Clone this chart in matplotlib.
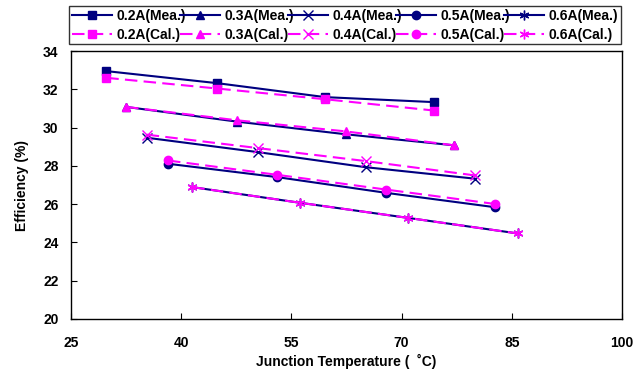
import matplotlib
matplotlib.use("Agg")
import matplotlib.pyplot as plt

plt.rcParams['font.family'] = ['Liberation Sans', 'DejaVu Sans']
plt.rcParams['font.weight'] = 'bold'

currents = ['0.2A', '0.3A', '0.4A', '0.5A', '0.6A']
markers = ['s', '^', 'x', 'o', (6, 2, 0)]

temp = [
    [29.8, 44.9, 59.6, 74.4],
    [32.5, 47.6, 62.4, 77.2],
    [35.3, 50.4, 65.1, 80.0],
    [38.2, 53.1, 67.9, 82.7],
    [41.5, 56.2, 70.9, 85.8],
]
eff_mea = [
    [32.95, 32.32, 31.59, 31.33],
    [31.08, 30.31, 29.65, 29.07],
    [29.47, 28.72, 27.93, 27.33],
    [28.11, 27.41, 26.59, 25.84],
    [26.89, 26.07, 25.28, 24.47],
]
eff_cal = [
    [32.60, 32.04, 31.48, 30.89],
    [31.08, 30.38, 29.80, 29.07],
    [29.63, 28.93, 28.25, 27.50],
    [28.28, 27.53, 26.76, 26.01],
    [26.89, 26.07, 25.28, 24.47],
]

mea_color = '#000080'
cal_color = '#FF00FF'


def msize(m):
    return 7 if m in ('x', (6, 2, 0)) else 6


fig = plt.figure(figsize=(6.34, 3.69), dpi=100)
ax = fig.add_axes([71 / 634, 1 - 319 / 369, 551 / 634, 268 / 369])

mea_lines = []
cal_lines = []
for i, c in enumerate(currents):
    l, = ax.plot(temp[i], eff_mea[i], color=mea_color, lw=1.5, marker=markers[i],
                 ms=msize(markers[i]), mew=1.0,
                 label=c + '(Mea.)', zorder=2)
    mea_lines.append(l)
for i, c in enumerate(currents):
    l, = ax.plot(temp[i], eff_cal[i], color=cal_color, lw=1.5, ls=(0, (6, 3)),
                 marker=markers[i], ms=msize(markers[i]), mew=1.0,
                 label=c + '(Cal.)', zorder=3)
    cal_lines.append(l)

ax.set_xlim(25, 100)
ax.set_ylim(20, 34)
ax.set_xticks([25, 40, 55, 70, 85, 100])
ax.set_yticks(range(20, 35, 2))
ax.tick_params(direction='in', length=4, labelsize=10)
ax.tick_params(axis='x', pad=12)
ax.tick_params(axis='y', pad=9)
for lab in ax.get_xticklabels() + ax.get_yticklabels():
    lab.set_fontweight('bold')
for sp in ax.spines.values():
    sp.set_linewidth(1.0)

ax.set_xlabel('Junction Temperature (  \u02daC)', fontsize=10, fontweight='bold', labelpad=3)
ax.set_ylabel('Efficiency (%)', fontsize=10, fontweight='bold', labelpad=10)

# legend row-wise: Mea on top row, Cal on bottom row
handles = []
for m, c in zip(mea_lines, cal_lines):
    handles += [m, c]
leg = fig.legend(handles=handles, loc='upper left',
                 bbox_to_anchor=(69 / 634, 1 - 44 / 369, 552 / 634, 38 / 369),
                 mode='expand', ncol=5, fontsize=10, frameon=True, fancybox=False,
                 edgecolor='black', handlelength=2.9, handletextpad=0.3,
                 columnspacing=0.1, borderpad=0.2, labelspacing=0.35, borderaxespad=0)
leg.get_frame().set_linewidth(1.0)
for t in leg.get_texts():
    t.set_fontweight('bold')

fig.savefig('out.png', dpi=100)
